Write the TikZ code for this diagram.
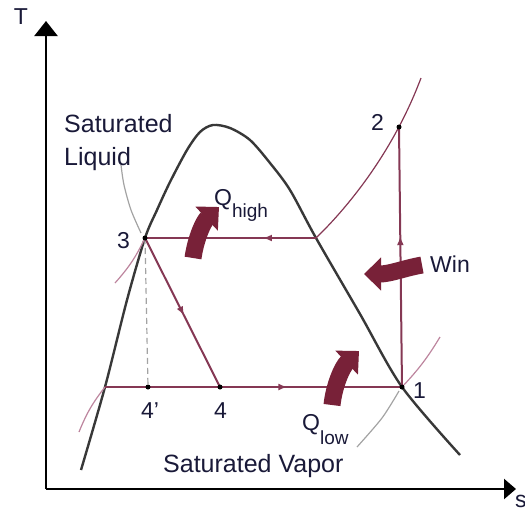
\documentclass[tikz,border=0pt]{standalone}
\usepackage{fontspec}
\setmainfont{Liberation Sans}
\usetikzlibrary{arrows.meta,decorations.markings}
\definecolor{cyc}{rgb}{0.52,0.22,0.33}
\definecolor{heat}{rgb}{0.47,0.13,0.22}
\definecolor{dome}{rgb}{0.22,0.22,0.22}
\definecolor{pale}{rgb}{0.64,0.64,0.64}
\definecolor{isob}{rgb}{0.74,0.52,0.62}
\definecolor{txt}{rgb}{0.10,0.10,0.22}

\begin{document}
\begin{tikzpicture}[x=1pt,y=-1pt,
  lbl/.style={font=\fontsize{23}{27}\selectfont,text=txt,inner sep=0pt},
  big/.style={font=\fontsize{25}{33}\selectfont,text=txt,inner sep=0pt,align=left},
  ax/.style={line width=2.4pt},
  dm/.style={draw=dome,line width=2.4pt},
  cy/.style={draw=cyc,line width=2pt},
  lite/.style={line width=1.2pt},
  mid/.style={postaction={decorate},decoration={markings,
      mark=at position #1 with {\arrow{Latex[length=9pt,width=7pt]}}}},
  hq/.style={draw=heat,line width=17pt,-{Triangle[width=32pt,length=17pt]}},
  pt/.style={circle,fill=black,inner sep=0pt,minimum size=5pt}]

\useasboundingbox (0,0) rectangle (525,507);

% axes
\coordinate (o) at (46,489);
\coordinate (ty) at (46,21);
\coordinate (sx) at (516,489);
\draw[ax,-{Triangle[width=23pt,length=15pt]}] (o) -- (ty);
\draw[ax,-{Triangle[width=20pt,length=12pt]}] (o) -- (sx);
\node[lbl] (tl) at (21,17) {T};
\node[lbl,anchor=base west] (sl) at (515,507) {s};

% state points
\coordinate (p1) at (402,387);
\coordinate (p2) at (399,127);
\coordinate (p3) at (145,238);
\coordinate (p4) at (220,387);
\coordinate (p4p) at (148,387);
\coordinate (pl) at (105,387);
\coordinate (pg) at (316,238);

% saturation dome
\draw[dm] plot[smooth,tension=0.5] coordinates {(81,470) (105,387) (127,300)
  (145,238) (157,210) (170,182) (187,150) (200,132) (213,125) (230,128)
  (250,140) (270,163) (290,190) (316,238) (360,314) (402,387) (460,455)};

% isobars outside the dome
\draw[cyc,lite] (pg) .. controls (345,210) and (392,155) .. (421,78);
\draw[isob,lite] (p3) to[bend left=8] (115,283);
\draw[isob,lite] (pl) to[bend right=8] (79,432);
\draw[isob,lite] (p1) to[bend right=6] (440,337);

% pointers
\draw[pale,lite] plot[smooth] coordinates {(121,165) (124,185) (131,210) (141,233)};
\draw[pale,lite] plot[smooth] coordinates {(399,391) (382,418) (357,447)};
\draw[pale,lite,dashed,dash pattern=on 6pt off 4pt] (p3) -- (p4p);

% cycle
\draw[cy,mid=0.58] (p1) -- (p2);
\draw[cy,mid=0.31] (pg) -- (p3);
\draw[cy,mid=0.52] (p3) -- (p4);
\draw[cy] (pl) -- (p4);
\draw[cy,mid=0.37] (p4) -- (p1);

\foreach \p in {p1,p2,p3,p4,p4p} \node[pt] at (\p) {};

% heat and work arrows
\draw[hq] (193,258) .. controls (196,237) and (204,221) .. (219,207);
\draw[hq] (332,405) .. controls (334,386) and (342,367) .. (359,351);
\draw[hq] (422,265) .. controls (405,268) and (390,274) .. (364,274);

% labels
\node[lbl,anchor=base west] (n1) at (413,398) {1};
\node[lbl,anchor=base west] (n2) at (371,130) {2};
\node[lbl,anchor=base west] (n3) at (117,248) {3};
\node[lbl,anchor=base west] (n4) at (214,418) {4};
\node[lbl,anchor=base west] (n4p) at (141,418) {4'};
\node[lbl,anchor=base west] (qh) at (214,205)
  {Q\raisebox{-12pt}{\fontsize{19}{19}\selectfont high}};
\node[lbl,anchor=base west] (ql) at (302,430)
  {Q\raisebox{-14pt}{\fontsize{19}{19}\selectfont low}};
\node[lbl,anchor=base west] (wi) at (430,272) {Win};
\node[big,anchor=north west] (sliq) at (64,114) {Saturated\\Liquid};
\node[big,anchor=base west] (svap) at (163,472) {Saturated Vapor};
\end{tikzpicture}
\end{document}
